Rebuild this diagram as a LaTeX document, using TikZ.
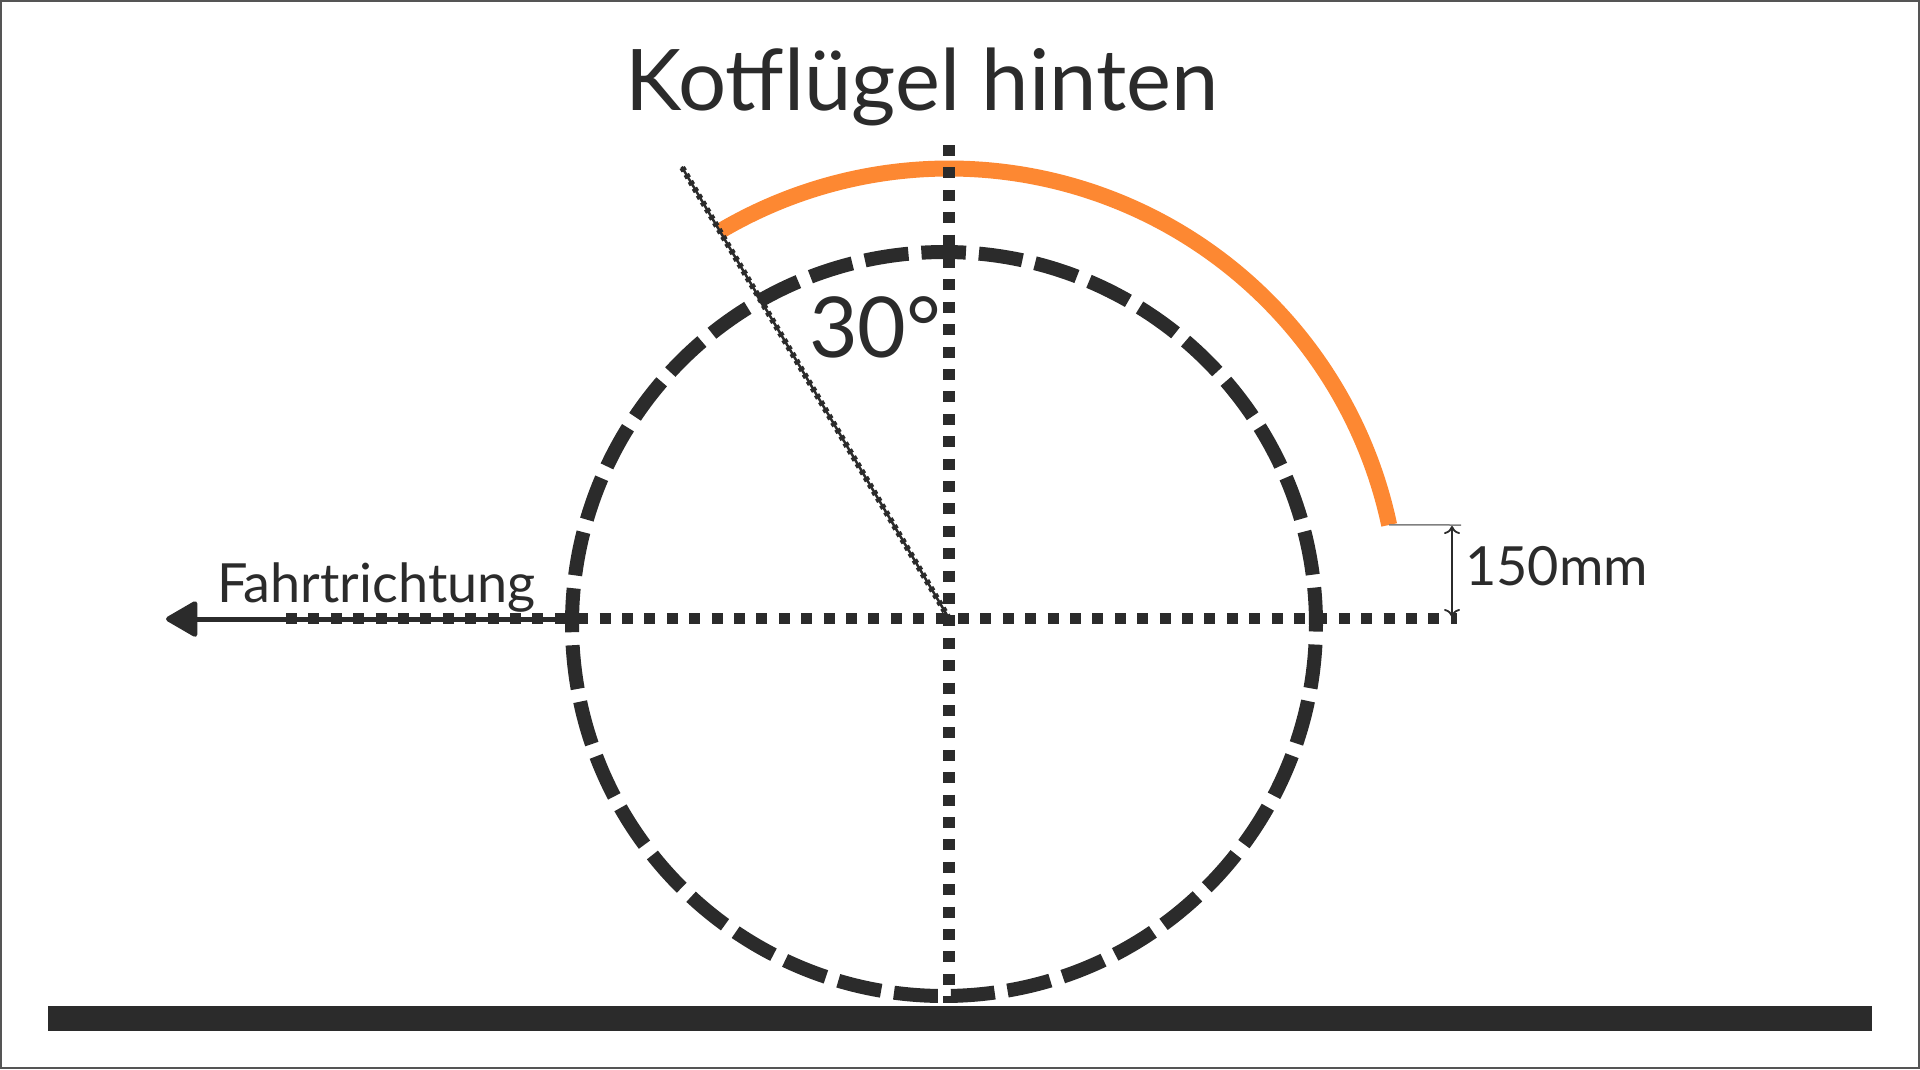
\documentclass[tikz,border=0pt]{standalone}
\usepackage{fontspec}
\setmainfont{Lato}
\usetikzlibrary{arrows.meta}
\definecolor{ink}{HTML}{2B2B2B}
\definecolor{fender}{RGB}{253,136,50}
\definecolor{frame}{HTML}{555555}
\begin{document}
\begin{tikzpicture}[x=1pt,y=1pt,
  wheel/.style={draw=ink, line width=14pt, dash pattern=on 44pt off 13pt},
  axisdots/.style={draw=ink, line width=11.5pt, dash pattern=on 11pt off 11.4pt},
  fineline/.style={draw=ink, line width=2.5pt},
  finedots/.style={draw=ink, line width=6pt, dash pattern=on 4pt off 4pt},
  txt/.style={inner sep=0pt, text=ink}]
\useasboundingbox (0,0) rectangle (1920,-1069);
\draw[line width=2pt, draw=frame] (1,-1) rectangle (1919,-1068);
% centres
\coordinate (c) at (949,-618.5);
\coordinate (wc) at (944,-624);
% fender arc
\draw[fender, line width=16pt] ([shift={(12:450pt)}]c) coordinate (fe) arc[start angle=12, end angle=120.5, radius=450pt];
% wheel
\draw[wheel] ([shift={(93.4:372pt)}]wc) arc[start angle=93.4, end angle=-266.6, radius=372pt];
% direction arrow
\coordinate (as) at (560,-619);
\coordinate (at) at (166,-619);
\draw[ink, line width=5pt, -{Triangle[length=34pt,width=38pt,round]}] (as) -- (at);
% axes
\coordinate (hl) at (286,-618.5);
\coordinate (hr) at (1457,-618.5);
\coordinate (vt) at (949,-145);
\coordinate (vb) at (949,-1003);
\draw[axisdots] (hl) -- (hr);
\draw[axisdots] (vt) -- (vb);
% 30 degree line
\coordinate (ft) at (681.7,-166.7);
\draw[fineline] (c) -- (ft);
\draw[finedots] (c) -- (ft);
% dimension
\coordinate (tk) at (1461,-525);
\draw[draw=gray, line width=1.5pt] (fe) -- (tk);
\coordinate (d1) at (1452,-526);
\coordinate (d2) at (1452,-617);
\draw[ink, line width=1.8pt, {To[length=8pt,width=16pt]}-{To[length=8pt,width=16pt]}] (d1) -- (d2);
% ground
\fill[ink] (48,-1006) rectangle (1872,-1031);
% texts
\node[txt, anchor=base, font=\fontsize{85}{100}\selectfont] (title) at (922,-110) {Kotflügel hinten};
\node[txt, anchor=base west, font=\fontsize{84}{100}\selectfont] (ang) at (809,-357) {30°};
\node[txt, anchor=base west, font=\fontsize{54}{64}\selectfont] (dir) at (217,-602) {Fahrtrichtung};
\node[txt, anchor=base west, font=\fontsize{54}{64}\selectfont] (dim) at (1465,-585) {150mm};
\end{tikzpicture}
\end{document}
